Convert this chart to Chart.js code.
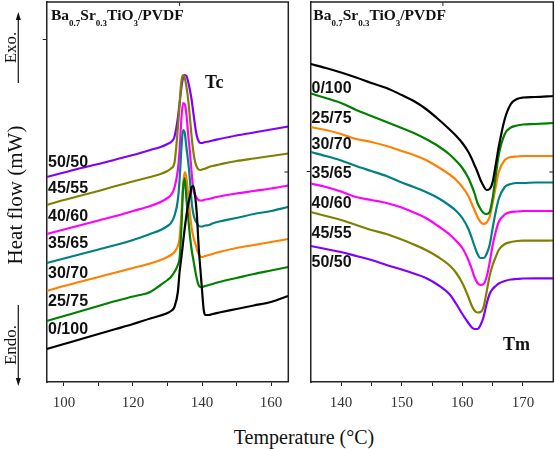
<!DOCTYPE html>
<html>
<head>
<meta charset="utf-8">
<script src="https://cdn.jsdelivr.net/npm/chart.js@4.4.0/dist/chart.umd.min.js"></script>
<style>
  html, body { margin: 0; padding: 0; background: #fff; }
  #wrap { position: relative; width: 555px; height: 449px; overflow: hidden; font-family: "Liberation Serif", "Times New Roman", serif; }
  canvas { position: absolute; top: 0; }
  #xtitle { position: absolute; left: 184px; width: 240px; top: 427px; text-align: center; font-size: 20px; line-height: 20px; color: #111; }
</style>
</head>
<body>
<div id="wrap">
  <canvas id="cool" width="296" height="420" style="left:0"></canvas>
  <canvas id="melt" width="251" height="420" style="left:304px"></canvas>
  <div id="xtitle">Temperature (°C)</div>
</div>
<script>
// DSC curves of Ba0.7Sr0.3TiO3/PVDF, heat flow in arbitrary mW offsets
const sampleNames = ['0/100', '25/75', '30/70', '35/65', '40/60', '45/55', '50/50'];
const sampleColors = ['#000000', '#008000', '#ff8000', '#008080', '#ff00ff', '#808000', '#8000ff'];

// cooling scan (Tc)
const tcTemp = [95, 100, 105, 110, 115, 120, 125, 128, 130, 131, 132, 133, 133.5, 134, 134.5, 135, 135.5, 136, 136.5, 137, 137.5, 138, 138.5, 139, 139.5, 140, 140.5, 141, 142, 143, 145, 150, 155, 160, 165];
const tcFlow0100 = [3.3, 3.8, 4.3, 4.8, 5.3, 5.8, 6.35, 6.65, 6.9, 7.1, 7.5, 9.0, 11.0, 12.4, 13.9, 15.4, 16.7, 17.8, 18.6, 19.5, 19.6, 18.6, 16.8, 13.7, 11.4, 9.2, 7.2, 6.7, 6.7, 6.8, 6.95, 7.3, 7.65, 8.0, 8.6];
const tcFlow2575 = [6.1, 6.6, 7.1, 7.6, 8.1, 8.55, 9.0, 9.7, 10.2, 10.5, 11.0, 11.7, 12.4, 15.2, 19.2, 20.4, 18.2, 16.4, 14.6, 13.2, 12.2, 11.2, 10.3, 9.7, 9.5, 9.5, 9.55, 9.6, 9.7, 9.8, 10.0, 10.4, 10.8, 11.15, 11.5];
const tcFlow3070 = [9.1, 9.6, 10.05, 10.5, 10.95, 11.4, 11.85, 12.2, 12.5, 12.7, 13.0, 13.6, 14.4, 16.7, 19.7, 21.0, 20.4, 18.7, 16.9, 15.4, 14.5, 13.9, 13.3, 12.8, 12.55, 12.5, 12.55, 12.6, 12.7, 12.8, 13.0, 13.4, 13.7, 14.0, 14.3];
const tcFlow3565 = [11.9, 12.35, 12.8, 13.25, 13.7, 14.2, 14.8, 15.2, 15.6, 15.9, 16.6, 18.2, 20.2, 23.2, 25.2, 24.9, 23.4, 22.0, 20.2, 18.0, 16.8, 16.2, 15.9, 15.6, 15.55, 15.55, 15.6, 15.65, 15.7, 15.85, 16.05, 16.4, 16.8, 17.1, 17.5];
const tcFlow4060 = [14.8, 15.25, 15.7, 16.15, 16.6, 17.1, 17.6, 18.0, 18.4, 18.7, 19.4, 21.2, 23.2, 26.2, 27.9, 27.8, 26.7, 24.7, 23.0, 20.9, 19.2, 18.7, 18.4, 18.2, 18.15, 18.15, 18.2, 18.25, 18.3, 18.4, 18.55, 18.85, 19.1, 19.35, 19.65];
const tcFlow4555 = [17.7, 18.2, 18.65, 19.1, 19.6, 20.05, 20.5, 20.8, 21.1, 21.35, 21.9, 25.4, 27.7, 30.0, 30.7, 30.4, 29.5, 28.2, 26.4, 24.5, 23.0, 22.0, 21.5, 21.25, 21.2, 21.25, 21.3, 21.35, 21.5, 21.6, 21.75, 22.1, 22.35, 22.6, 22.85];
const tcFlow5050 = [20.5, 20.95, 21.4, 21.8, 22.25, 22.7, 23.2, 23.5, 23.8, 24.0, 24.5, 26.4, 27.9, 29.4, 30.4, 30.7, 30.6, 30.0, 29.2, 28.2, 26.9, 25.6, 24.6, 24.1, 23.9, 23.9, 23.95, 24.0, 24.05, 24.15, 24.3, 24.65, 24.95, 25.25, 25.55];

// heating scan (Tm)
const tmTemp = [135, 137.5, 140, 142.5, 145, 147.5, 150, 152, 154, 156, 158, 159, 160, 161, 161.5, 162, 162.5, 163, 163.5, 164, 164.5, 165, 165.5, 166, 167, 168, 169, 170, 172, 175];
const tmFlow0100 = [31.8, 31.4, 30.95, 30.45, 29.9, 29.4, 28.7, 28.1, 27.3, 26.3, 25.2, 24.6, 23.9, 23.0, 22.4, 21.7, 21.0, 20.2, 19.6, 19.2, 19.3, 20.0, 21.7, 23.5, 26.3, 27.8, 28.3, 28.45, 28.5, 28.6];
const tmFlow2575 = [28.85, 28.4, 27.9, 27.2, 26.6, 26.0, 25.4, 24.9, 24.3, 23.6, 22.7, 22.1, 21.4, 20.4, 19.7, 18.9, 17.9, 17.3, 16.9, 16.8, 17.0, 18.4, 20.6, 22.7, 24.8, 25.45, 25.65, 25.75, 25.8, 25.9];
const tmFlow3070 = [25.5, 25.2, 24.8, 24.3, 24.0, 23.6, 23.1, 22.7, 22.2, 21.5, 20.7, 20.2, 19.5, 18.6, 17.9, 17.2, 16.5, 16.0, 15.8, 15.95, 16.5, 17.9, 19.5, 21.0, 22.2, 22.5, 22.55, 22.6, 22.6, 22.6];
const tmFlow3565 = [23.0, 22.6, 22.15, 21.6, 21.1, 20.6, 19.95, 19.5, 19.0, 18.4, 17.6, 17.1, 16.4, 15.3, 14.5, 13.6, 12.8, 12.4, 12.4, 12.8, 13.7, 15.4, 17.0, 18.3, 19.5, 19.8, 19.9, 19.9, 19.95, 19.95];
const tmFlow4060 = [19.85, 19.5, 19.05, 18.5, 18.2, 17.9, 17.45, 16.95, 16.4, 15.6, 14.7, 14.1, 13.4, 12.2, 11.4, 10.5, 9.9, 9.7, 9.8, 10.5, 11.9, 13.7, 15.0, 16.0, 16.75, 17.0, 17.05, 17.1, 17.1, 17.1];
const tmFlow4555 = [17.0, 16.6, 16.2, 15.7, 15.2, 14.8, 14.25, 13.75, 13.2, 12.5, 11.6, 10.9, 9.9, 8.5, 7.7, 7.15, 6.95, 7.0, 7.5, 9.0, 10.6, 11.7, 12.5, 13.2, 13.8, 14.0, 14.1, 14.13, 14.13, 14.15];
const tmFlow5050 = [13.6, 13.3, 13.0, 12.6, 12.2, 11.7, 11.25, 10.85, 10.4, 9.7, 8.7, 7.8, 6.8, 5.9, 5.5, 5.3, 5.3, 5.7, 6.5, 7.8, 8.8, 9.3, 9.6, 9.85, 10.1, 10.25, 10.3, 10.35, 10.37, 10.37];

// axis ticks
const tcTicks = [100, 110, 120, 130, 140, 150, 160];
const tcTickLabels = [100, 120, 140, 160];
const tmTicks = [140, 145, 150, 155, 160, 165, 170];
const tmTickLabels = [140, 150, 160, 170];

const SERIF = '"Liberation Serif", "Times New Roman", serif';
const SANS = '"Liberation Sans", Arial, sans-serif';

function drawFormula(ctx, x, y) {
  const parts = [['Ba', 0], ['0.7', 1], ['Sr', 0], ['0.3', 1], ['TiO', 0], ['3', 1], ['/PVDF', 0]];
  parts.forEach(([t, sub]) => {
    ctx.font = sub ? 'bold 9px ' + SERIF : 'bold 15.5px ' + SERIF;
    ctx.fillText(t, x, sub ? y + 6 : y);
    x += ctx.measureText(t).width;
  });
}

function drawArrow(ctx, x, y1, y2) {
  const dir = y2 > y1 ? 1 : -1;
  ctx.beginPath();
  ctx.moveTo(x, y1);
  ctx.lineTo(x, y2 - dir * 6);
  ctx.stroke();
  ctx.beginPath();
  ctx.moveTo(x, y2);
  ctx.lineTo(x - 2.5, y2 - dir * 8);
  ctx.lineTo(x + 2.5, y2 - dir * 8);
  ctx.closePath();
  ctx.fill();
}

function rotatedText(ctx, txt, x, y, font) {
  ctx.save();
  ctx.translate(x, y);
  ctx.rotate(-Math.PI / 2);
  ctx.font = font;
  ctx.textAlign = 'center';
  ctx.textBaseline = 'alphabetic';
  ctx.fillText(txt, 0, 0);
  ctx.restore();
}

const panelDecor = {
  id: 'panelDecor',
  afterDraw(chart, args, o) {
    const { ctx, chartArea: a, scales: { x, y } } = chart;
    ctx.save();
    ctx.strokeStyle = '#222';
    ctx.fillStyle = '#111';
    ctx.lineWidth = 1.5;
    ctx.beginPath();
    ctx.moveTo(a.left, a.top);
    ctx.lineTo(a.right, a.top);
    ctx.lineTo(a.right, a.bottom);
    ctx.stroke();

    // small inner ticks on the top and right frame
    ctx.lineWidth = 1;
    const tx = x.getPixelForValue(o.topTick);
    const ry = y.getPixelForValue(o.rightTick);
    ctx.beginPath();
    ctx.moveTo(tx, a.top);
    ctx.lineTo(tx, a.top + 4);
    ctx.moveTo(a.right, ry);
    ctx.lineTo(a.right - 4, ry);
    ctx.stroke();

    ctx.textAlign = 'left';
    ctx.textBaseline = 'alphabetic';
    drawFormula(ctx, a.left + o.formulaDx, 20);

    ctx.font = 'bold 16px ' + SANS;
    sampleNames.forEach((n, i) => {
      ctx.fillText(n, a.left + o.labelDx, y.getPixelForValue(o.labelY[i]));
    });

    ctx.font = 'bold 18px ' + SERIF;
    ctx.fillText(o.peak, x.getPixelForValue(o.peakAt[0]), y.getPixelForValue(o.peakAt[1]));

    if (o.yTitle) {
      ctx.fillStyle = '#111';
      rotatedText(ctx, 'Heat flow (mW)', 22, 195, '21px ' + SERIF);
      rotatedText(ctx, 'Exo.', 16, 47.5, '17px ' + SERIF);
      rotatedText(ctx, 'Endo.', 16, 345, '17px ' + SERIF);
      ctx.lineWidth = 1.2;
      ctx.strokeStyle = '#111';
      drawArrow(ctx, 18.3, 83, 12);
      drawArrow(ctx, 18.3, 305, 386);
    }
    ctx.restore();
  }
};

function buildChart(canvasId, temps, flows, opt) {
  const datasets = flows.map((f, i) => ({
    label: sampleNames[i],
    data: temps.map((t, k) => ({ x: t, y: f[k] })),
    borderColor: sampleColors[i],
    borderWidth: 2.2,
    pointRadius: 0,
    fill: false,
    cubicInterpolationMode: 'monotone'
  }));
  const gridStyle = { drawOnChartArea: false, drawTicks: true, tickLength: 4, color: '#222', lineWidth: 1 };
  const borderStyle = { display: true, color: '#222', width: 1.5 };
  return new Chart(document.getElementById(canvasId), {
    type: 'line',
    data: { datasets: datasets },
    options: {
      responsive: false,
      animation: false,
      devicePixelRatio: 1,
      layout: { padding: opt.padding },
      plugins: { legend: { display: false }, tooltip: { enabled: false }, panelDecor: opt.decor },
      scales: {
        x: {
          type: 'linear', min: opt.xMin, max: opt.xMax,
          afterBuildTicks: s => { s.ticks = opt.xTicks.map(v => ({ value: v })); },
          afterFit: s => { s.height = 38; },
          ticks: {
            autoSkip: false, maxRotation: 0, padding: 8, color: '#333',
            font: { family: SERIF, size: 15 },
            callback: v => opt.xLabels.includes(v) ? String(v) : ''
          },
          grid: gridStyle,
          border: borderStyle
        },
        y: {
          min: 0, max: 38,
          afterBuildTicks: s => { s.ticks = opt.yTicks.map(v => ({ value: v })); },
          afterFit: s => { s.width = 0; },
          ticks: { display: false },
          grid: gridStyle,
          border: borderStyle
        }
      }
    },
    plugins: [panelDecor]
  });
}

buildChart('cool', tcTemp,
  [tcFlow0100, tcFlow2575, tcFlow3070, tcFlow3565, tcFlow4060, tcFlow4555, tcFlow5050], {
  padding: { left: 46.7, right: 7.7, top: 2, bottom: 0 },
  xMin: 95, xMax: 165, xTicks: tcTicks, xLabels: tcTickLabels, yTicks: [34.3],
  decor: {
    topTick: 133.5, rightTick: 21.0, formulaDx: 4.3, labelDx: 1.3,
    labelY: [4.78, 7.58, 10.38, 13.38, 16.13, 18.88, 21.53],
    peak: 'Tc', peakAt: [140.9, 29.4], yTitle: true
  }
});

buildChart('melt', tmTemp,
  [tmFlow0100, tmFlow2575, tmFlow3070, tmFlow3565, tmFlow4060, tmFlow4555, tmFlow5050], {
  padding: { left: 6.7, right: 1.7, top: 2, bottom: 0 },
  xMin: 135, xMax: 175, xTicks: tmTicks, xLabels: tmTickLabels, yTicks: [21.0],
  decor: {
    topTick: 156.8, rightTick: 21.0, formulaDx: 2.6, labelDx: 0.8,
    labelY: [28.88, 25.88, 23.28, 20.38, 17.38, 14.38, 11.55],
    peak: 'Tm', peakAt: [166.7, 3.2], yTitle: false
  }
});
</script>
</body>
</html>
